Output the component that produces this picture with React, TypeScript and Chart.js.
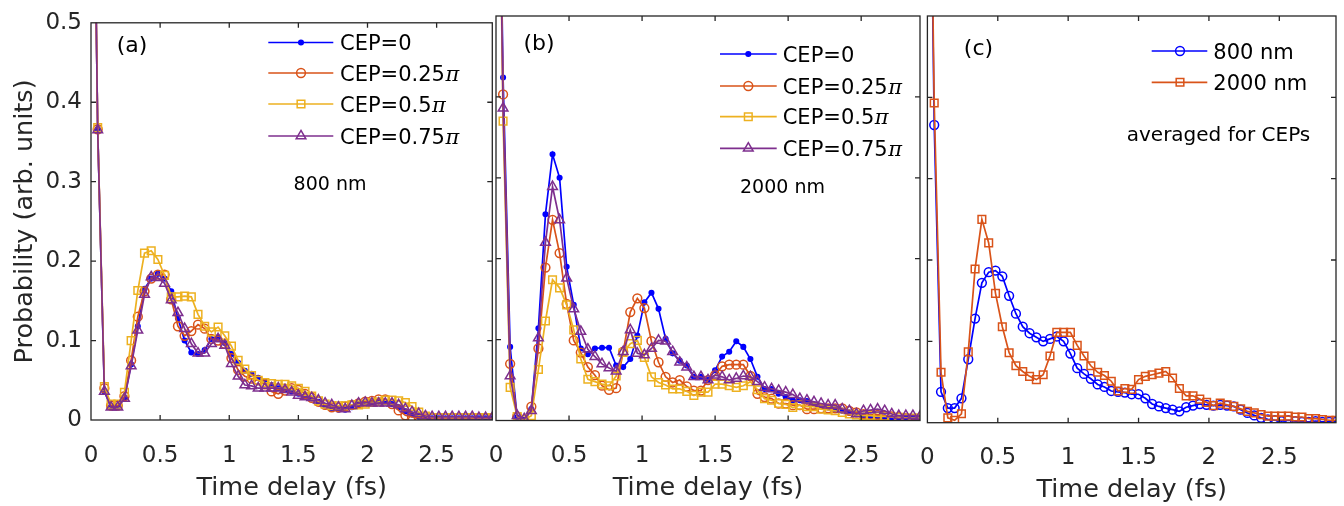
import React, { useEffect, useRef } from 'react';
import { Chart, registerables } from 'chart.js';

Chart.register(...registerables);

const FONT = '"DejaVu Sans", "Liberation Sans", sans-serif';
const PI_FONT = '"DejaVu Serif", "Liberation Serif", serif';
const AXIS_COLOR = '#262626';
const W = 1344;
const H = 506;

// time delay grid (fs)
const TIME_FS = [
  0, 0.0484, 0.0968, 0.1451, 0.1935, 0.2419, 0.2903, 0.3386, 0.387, 0.4354,
  0.4838, 0.5322, 0.5805, 0.6289, 0.6773, 0.7257, 0.774, 0.8224, 0.8708, 0.9192,
  0.9676, 1.0159, 1.0643, 1.1127, 1.1611, 1.2094, 1.2578, 1.3062, 1.3546, 1.403,
  1.4513, 1.4997, 1.5481, 1.5965, 1.6449, 1.6932, 1.7416, 1.79, 1.8384, 1.8867,
  1.9351, 1.9835, 2.0319, 2.0803, 2.1286, 2.177, 2.2254, 2.2738, 2.3221, 2.3705,
  2.4189, 2.4673, 2.5157, 2.564, 2.6124, 2.6608, 2.7092, 2.7575, 2.8059, 2.8543,
  2.9027,
];
const X_MAX = 2.9027;
const X_TICKS = [0, 0.5, 1, 1.5, 2, 2.5];
const X_TICK_LABELS = ['0', '0.5', '1', '1.5', '2', '2.5'];
const Y_TICKS = [0, 0.1, 0.2, 0.3, 0.4, 0.5];
const Y_TICK_LABELS = ['0', '0.1', '0.2', '0.3', '0.4', '0.5'];

const CEP_LABELS = ['CEP=0', 'CEP=0.25π', 'CEP=0.5π', 'CEP=0.75π'];
const AVG_LABELS = ['800 nm', '2000 nm'];

// (a) 800 nm
const A_CEP_0 = [
  1.0, 0.366, 0.036, 0.016, 0.016, 0.028, 0.070, 0.118, 0.165, 0.178,
  0.184, 0.178, 0.162, 0.128, 0.100, 0.085, 0.083, 0.088, 0.102, 0.104,
  0.097, 0.083, 0.072, 0.062, 0.058, 0.053, 0.048, 0.044, 0.040, 0.038,
  0.036, 0.033, 0.030, 0.027, 0.023, 0.018, 0.014, 0.013, 0.013, 0.016,
  0.020, 0.022, 0.022, 0.023, 0.022, 0.020, 0.016, 0.011, 0.007, 0.004,
  0.002, 0.002, 0.002, 0.002, 0.002, 0.002, 0.002, 0.002, 0.002, 0.002,
  0.002,
];
const A_CEP_025 = [
  1.0, 0.366, 0.040, 0.018, 0.018, 0.030, 0.075, 0.130, 0.162, 0.178,
  0.183, 0.183, 0.152, 0.118, 0.106, 0.112, 0.120, 0.115, 0.102, 0.100,
  0.096, 0.078, 0.063, 0.055, 0.052, 0.050, 0.045, 0.036, 0.033, 0.037,
  0.040, 0.038, 0.033, 0.028, 0.023, 0.019, 0.016, 0.016, 0.017, 0.019,
  0.021, 0.023, 0.024, 0.026, 0.026, 0.020, 0.012, 0.006, 0.004, 0.003,
  0.002, 0.002, 0.002, 0.002, 0.002, 0.002, 0.002, 0.002, 0.002, 0.002,
  0.002,
];
const A_CEP_05 = [
  1.0, 0.368, 0.042, 0.020, 0.020, 0.035, 0.100, 0.163, 0.210, 0.213,
  0.202, 0.182, 0.155, 0.155, 0.156, 0.155, 0.133, 0.118, 0.111, 0.117,
  0.106, 0.093, 0.075, 0.064, 0.056, 0.050, 0.047, 0.046, 0.045, 0.045,
  0.043, 0.040, 0.036, 0.030, 0.024, 0.020, 0.018, 0.018, 0.018, 0.019,
  0.019, 0.020, 0.022, 0.023, 0.025, 0.025, 0.024, 0.022, 0.017, 0.010,
  0.005, 0.003, 0.003, 0.003, 0.003, 0.003, 0.003, 0.003, 0.003, 0.003,
  0.003,
];
const A_CEP_075 = [
  1.0, 0.365, 0.036, 0.016, 0.016, 0.027, 0.068, 0.113, 0.158, 0.180,
  0.179, 0.172, 0.151, 0.135, 0.115, 0.096, 0.084, 0.084, 0.096, 0.102,
  0.094, 0.071, 0.055, 0.044, 0.043, 0.040, 0.040, 0.040, 0.040, 0.038,
  0.035, 0.031, 0.029, 0.028, 0.025, 0.021, 0.019, 0.016, 0.014, 0.018,
  0.021, 0.022, 0.021, 0.021, 0.021, 0.021, 0.019, 0.014, 0.010, 0.008,
  0.005, 0.004, 0.004, 0.004, 0.004, 0.004, 0.004, 0.004, 0.003, 0.003,
  0.003,
];

// (b) 2000 nm
const B_CEP_0 = [
  1.0, 0.424, 0.091, 0.004, 0.001, 0.014, 0.114, 0.255, 0.329, 0.300,
  0.190, 0.143, 0.089, 0.082, 0.089, 0.090, 0.090, 0.068, 0.066, 0.076,
  0.105, 0.146, 0.158, 0.138, 0.101, 0.083, 0.074, 0.068, 0.054, 0.054,
  0.050, 0.062, 0.079, 0.085, 0.098, 0.091, 0.076, 0.054, 0.039, 0.039,
  0.033, 0.029, 0.025, 0.025, 0.024, 0.020, 0.018, 0.016, 0.014, 0.012,
  0.010, 0.008, 0.006, 0.005, 0.004, 0.004, 0.003, 0.003, 0.003, 0.003,
  0.003,
];
const B_CEP_025 = [
  1.0, 0.403, 0.070, 0.005, 0.001, 0.017, 0.089, 0.189, 0.248, 0.207,
  0.144, 0.099, 0.084, 0.066, 0.056, 0.043, 0.038, 0.040, 0.085, 0.134,
  0.151, 0.139, 0.098, 0.072, 0.054, 0.047, 0.050, 0.042, 0.037, 0.037,
  0.050, 0.056, 0.067, 0.069, 0.069, 0.069, 0.055, 0.033, 0.029, 0.027,
  0.021, 0.021, 0.019, 0.019, 0.014, 0.014, 0.015, 0.015, 0.015, 0.015,
  0.012, 0.010, 0.008, 0.007, 0.007, 0.006, 0.005, 0.004, 0.003, 0.002,
  0.002,
];
const B_CEP_05 = [
  1.0, 0.370, 0.041, 0.005, 0.001, 0.006, 0.063, 0.123, 0.174, 0.164,
  0.143, 0.112, 0.076, 0.051, 0.048, 0.045, 0.043, 0.055, 0.084, 0.095,
  0.099, 0.078, 0.054, 0.047, 0.044, 0.039, 0.039, 0.036, 0.031, 0.035,
  0.035, 0.045, 0.045, 0.043, 0.041, 0.043, 0.048, 0.038, 0.027, 0.025,
  0.021, 0.020, 0.016, 0.019, 0.017, 0.017, 0.014, 0.013, 0.012, 0.010,
  0.008, 0.007, 0.006, 0.006, 0.005, 0.005, 0.004, 0.004, 0.003, 0.003,
  0.003,
];
const B_CEP_075 = [
  1.0, 0.386, 0.055, 0.006, 0.002, 0.012, 0.102, 0.220, 0.289, 0.248,
  0.176, 0.138, 0.110, 0.088, 0.079, 0.070, 0.065, 0.061, 0.085, 0.112,
  0.083, 0.081, 0.089, 0.099, 0.098, 0.085, 0.072, 0.066, 0.054, 0.054,
  0.050, 0.056, 0.054, 0.050, 0.052, 0.055, 0.054, 0.048, 0.041, 0.039,
  0.037, 0.035, 0.032, 0.027, 0.025, 0.023, 0.021, 0.019, 0.019, 0.014,
  0.012, 0.008, 0.012, 0.013, 0.014, 0.012, 0.008, 0.006, 0.006, 0.006,
  0.005,
];

// (c) averaged for CEPs
const C_800 = [
  1.0, 0.366, 0.038, 0.018, 0.018, 0.030, 0.078, 0.128, 0.172, 0.185,
  0.187, 0.180, 0.156, 0.134, 0.118, 0.110, 0.105, 0.100, 0.103, 0.106,
  0.100, 0.085, 0.067, 0.060, 0.054, 0.047, 0.044, 0.039, 0.038, 0.037,
  0.035, 0.035, 0.030, 0.023, 0.020, 0.018, 0.016, 0.014, 0.019, 0.021,
  0.023, 0.022, 0.021, 0.022, 0.021, 0.020, 0.016, 0.012, 0.009, 0.006,
  0.004, 0.003, 0.002, 0.003, 0.002, 0.001, 0.001, 0.002, 0.001, 0.001,
  0.001,
];
const C_2000 = [
  1.0, 0.393, 0.062, 0.006, 0.003, 0.011, 0.087, 0.189, 0.250, 0.221,
  0.159, 0.118, 0.086, 0.070, 0.063, 0.057, 0.053, 0.059, 0.082, 0.111,
  0.111, 0.111, 0.095, 0.082, 0.070, 0.062, 0.058, 0.051, 0.039, 0.042,
  0.041, 0.053, 0.057, 0.059, 0.061, 0.063, 0.055, 0.042, 0.033, 0.033,
  0.029, 0.025, 0.021, 0.024, 0.022, 0.020, 0.017, 0.014, 0.012, 0.010,
  0.008, 0.008, 0.008, 0.008, 0.007, 0.007, 0.005, 0.005, 0.004, 0.003,
  0.003,
];

type Style = { color: string; marker: string; radius: number; filled: boolean };

const CEP_STYLES: Style[] = [
  { color: '#0000FF', marker: 'circle', radius: 2.3, filled: true },
  { color: '#D95319', marker: 'circle', radius: 4.4, filled: false },
  { color: '#EDB120', marker: 'rect', radius: 5.4, filled: false },
  { color: '#7E2F8E', marker: 'triangle', radius: 5.6, filled: false },
];
const AVG_STYLES: Style[] = [
  { color: '#0000FF', marker: 'circle', radius: 4.4, filled: false },
  { color: '#D95319', marker: 'rect', radius: 5.4, filled: false },
];

const LINE_W = 1.7;
const MARK_W = 1.5;
const TICK_SIZE = 23;
const TITLE_SIZE = 25.5;
const LEGEND_SIZE = 21;

type PanelDef = {
  series: number[][];
  labels: string[];
  styles: Style[];
  area: { left: number; right: number; top: number; bottom: number };
  showY: boolean;
  tickPad: number;
  titlePad: number;
  legend: { x0: number; x1: number; xm: number; tx: number; rows: number[] };
  texts: { text: string; x: number; y: number; size: number; base: CanvasTextBaseline }[];
};

const PANELS: PanelDef[] = [
  {
    series: [A_CEP_0, A_CEP_025, A_CEP_05, A_CEP_075],
    labels: CEP_LABELS,
    styles: CEP_STYLES,
    area: { left: 91, right: 492.3, top: 15.7, bottom: 420 },
    showY: true,
    tickPad: 22,
    titlePad: 2,
    legend: { x0: 268.3, x1: 333.3, xm: 301, tx: 340, rows: [42.5, 73, 104, 136] },
    texts: [
      { text: '(a)', x: 132, y: 46, size: 22, base: 'middle' },
      { text: '800 nm', x: 330, y: 190, size: 19, base: 'alphabetic' },
    ],
  },
  {
    series: [B_CEP_0, B_CEP_025, B_CEP_05, B_CEP_075],
    labels: CEP_LABELS,
    styles: CEP_STYLES,
    area: { left: 496, right: 920, top: 16, bottom: 420.5 },
    showY: false,
    tickPad: 22,
    titlePad: 2,
    legend: { x0: 720, x1: 776.7, xm: 748.3, tx: 782.7, rows: [54, 86, 116.7, 148.3] },
    texts: [
      { text: '(b)', x: 539, y: 44, size: 22, base: 'middle' },
      { text: '2000 nm', x: 782.5, y: 193, size: 19, base: 'alphabetic' },
    ],
  },
  {
    series: [C_800, C_2000],
    labels: AVG_LABELS,
    styles: AVG_STYLES,
    area: { left: 927.4, right: 1336, top: 16, bottom: 422.7 },
    showY: false,
    tickPad: 22,
    titlePad: 0,
    legend: { x0: 1151.7, x1: 1207.3, xm: 1180, tx: 1213.3, rows: [51, 82.3] },
    texts: [
      { text: '(c)', x: 978.5, y: 49, size: 22, base: 'middle' },
      { text: 'averaged for CEPs', x: 1218.5, y: 141, size: 20, base: 'alphabetic' },
    ],
  },
];

function drawMarker(
  ctx: CanvasRenderingContext2D,
  style: Style,
  x: number,
  y: number
) {
  const r = style.radius;
  ctx.save();
  ctx.strokeStyle = style.color;
  ctx.fillStyle = style.color;
  ctx.lineWidth = MARK_W;
  ctx.beginPath();
  if (style.marker === 'circle') {
    ctx.arc(x, y, r, 0, Math.PI * 2);
  } else if (style.marker === 'rect') {
    const s = r * Math.SQRT1_2;
    ctx.rect(x - s, y - s, 2 * s, 2 * s);
  } else if (style.marker === 'triangle') {
    for (let k = 0; k < 3; k++) {
      const a = (k * 2 * Math.PI) / 3;
      const px = x + Math.sin(a) * r;
      const py = y - Math.cos(a) * r;
      if (k === 0) ctx.moveTo(px, py);
      else ctx.lineTo(px, py);
    }
    ctx.closePath();
  }
  if (style.filled) ctx.fill();
  ctx.stroke();
  ctx.restore();
}

const boxPlugin = {
  id: 'matlabBox',
  afterDatasetsDraw(chart: any) {
    const { ctx, chartArea, scales } = chart;
    const { left, right, top, bottom } = chartArea;
    ctx.save();
    ctx.strokeStyle = AXIS_COLOR;
    ctx.lineWidth = 1.3;
    ctx.strokeRect(left, top, right - left, bottom - top);
    const tl = 5;
    ctx.beginPath();
    scales.x.ticks.forEach((t: any) => {
      const px = scales.x.getPixelForValue(t.value);
      if (px <= left + 1 || px >= right - 1) return;
      ctx.moveTo(px, bottom);
      ctx.lineTo(px, bottom - tl);
      ctx.moveTo(px, top);
      ctx.lineTo(px, top + tl);
    });
    scales.y.ticks.forEach((t: any) => {
      const py = scales.y.getPixelForValue(t.value);
      if (py <= top + 1 || py >= bottom - 1) return;
      ctx.moveTo(left, py);
      ctx.lineTo(left + tl, py);
      ctx.moveTo(right, py);
      ctx.lineTo(right - tl, py);
    });
    ctx.stroke();
    ctx.restore();
  },
};

function drawLegendLabel(ctx: CanvasRenderingContext2D, label: string, x: number, y: number) {
  const idx = label.indexOf('π');
  ctx.fillStyle = '#000';
  ctx.textAlign = 'left';
  ctx.textBaseline = 'alphabetic';
  const base = y + LEGEND_SIZE * 0.36;
  ctx.font = `${LEGEND_SIZE}px ${FONT}`;
  if (idx < 0) {
    ctx.fillText(label, x, base);
    return;
  }
  const head = label.slice(0, idx);
  ctx.fillText(head, x, base);
  const w = ctx.measureText(head).width;
  ctx.font = `italic ${LEGEND_SIZE}px ${PI_FONT}`;
  ctx.fillText('π', x + w + 0.5, base);
}

function makeDecoPlugin(p: PanelDef) {
  return {
    id: 'deco',
    afterDraw(chart: any) {
      const ctx: CanvasRenderingContext2D = chart.ctx;
      ctx.save();
      chart.data.datasets.forEach((ds: any, i: number) => {
        const y = p.legend.rows[i];
        const st = p.styles[i];
        ctx.strokeStyle = st.color;
        ctx.lineWidth = LINE_W;
        ctx.beginPath();
        ctx.moveTo(p.legend.x0, y);
        ctx.lineTo(p.legend.x1, y);
        ctx.stroke();
        drawMarker(ctx, st, p.legend.xm, y);
        drawLegendLabel(ctx, ds.label, p.legend.tx, y);
      });
      p.texts.forEach((t) => {
        ctx.fillStyle = '#000';
        ctx.font = `${t.size}px ${FONT}`;
        ctx.textAlign = 'center';
        ctx.textBaseline = t.base;
        ctx.fillText(t.text, t.x, t.y);
      });
      ctx.restore();
    },
  };
}

function buildConfig(p: PanelDef): any {
  const n = p.series.length;
  return {
    type: 'line',
    data: {
      datasets: p.series.map((vals, i) => {
        const st = p.styles[i];
        return {
          label: p.labels[i],
          data: TIME_FS.map((t, k) => ({ x: t, y: vals[k] })),
          borderColor: st.color,
          backgroundColor: st.filled ? st.color : 'rgba(0,0,0,0)',
          borderWidth: LINE_W,
          pointStyle: st.marker,
          pointRadius: st.radius,
          pointBorderWidth: MARK_W,
          pointBorderColor: st.color,
          pointBackgroundColor: st.filled ? st.color : 'rgba(0,0,0,0)',
          tension: 0,
          fill: false,
          order: n - 1 - i,
        };
      }),
    },
    options: {
      responsive: false,
      maintainAspectRatio: false,
      animation: false,
      devicePixelRatio: 1,
      events: [],
      layout: {
        padding: {
          left: p.showY ? 0 : p.area.left,
          right: W - p.area.right,
          top: p.area.top,
          bottom: 0,
        },
      },
      plugins: {
        legend: { display: false },
        tooltip: { enabled: false },
      },
      scales: {
        x: {
          type: 'linear',
          min: 0,
          max: X_MAX,
          grid: { display: false, drawTicks: false },
          border: { display: false },
          ticks: {
            autoSkip: false,
            maxRotation: 0,
            padding: p.tickPad,
            font: { family: FONT, size: TICK_SIZE },
            color: AXIS_COLOR,
            callback: (_v: any, i: number) => X_TICK_LABELS[i],
          },
          title: {
            display: true,
            text: 'Time delay (fs)',
            font: { family: FONT, size: TITLE_SIZE },
            color: AXIS_COLOR,
            padding: { top: 0, bottom: p.titlePad },
          },
          afterBuildTicks: (s: any) => {
            s.ticks = X_TICKS.map((v) => ({ value: v }));
          },
          afterFit: (s: any) => {
            s.height = H - p.area.bottom;
          },
        },
        y: {
          type: 'linear',
          min: 0,
          max: 0.5,
          grid: { display: false, drawTicks: false },
          border: { display: false },
          ticks: {
            display: p.showY,
            padding: 9,
            font: { family: FONT, size: TICK_SIZE },
            color: AXIS_COLOR,
            callback: (_v: any, i: number) => Y_TICK_LABELS[i],
          },
          title: {
            display: p.showY,
            text: 'Probability (arb. units)',
            font: { family: FONT, size: TITLE_SIZE },
            color: AXIS_COLOR,
            padding: { top: 10, bottom: 0 },
          },
          afterBuildTicks: (s: any) => {
            s.ticks = Y_TICKS.map((v) => ({ value: v }));
          },
          afterFit: (s: any) => {
            s.width = p.showY ? p.area.left : 0;
          },
        },
      },
    },
    plugins: [boxPlugin, makeDecoPlugin(p)],
  };
}

function Panel({ def }: { def: PanelDef }) {
  const ref = useRef<HTMLCanvasElement | null>(null);
  useEffect(() => {
    if (!ref.current) return;
    const chart = new Chart(ref.current, buildConfig(def));
    return () => chart.destroy();
  }, [def]);
  return (
    <canvas
      ref={ref}
      width={W}
      height={H}
      style={{ position: 'absolute', left: 0, top: 0, width: W, height: H }}
    />
  );
}

export default function App() {
  return (
    <div
      style={{
        position: 'absolute',
        left: 0,
        top: 0,
        width: W,
        height: H,
        background: '#fff',
        overflow: 'hidden',
      }}
    >
      {PANELS.map((p, i) => (
        <Panel key={i} def={p} />
      ))}
    </div>
  );
}
